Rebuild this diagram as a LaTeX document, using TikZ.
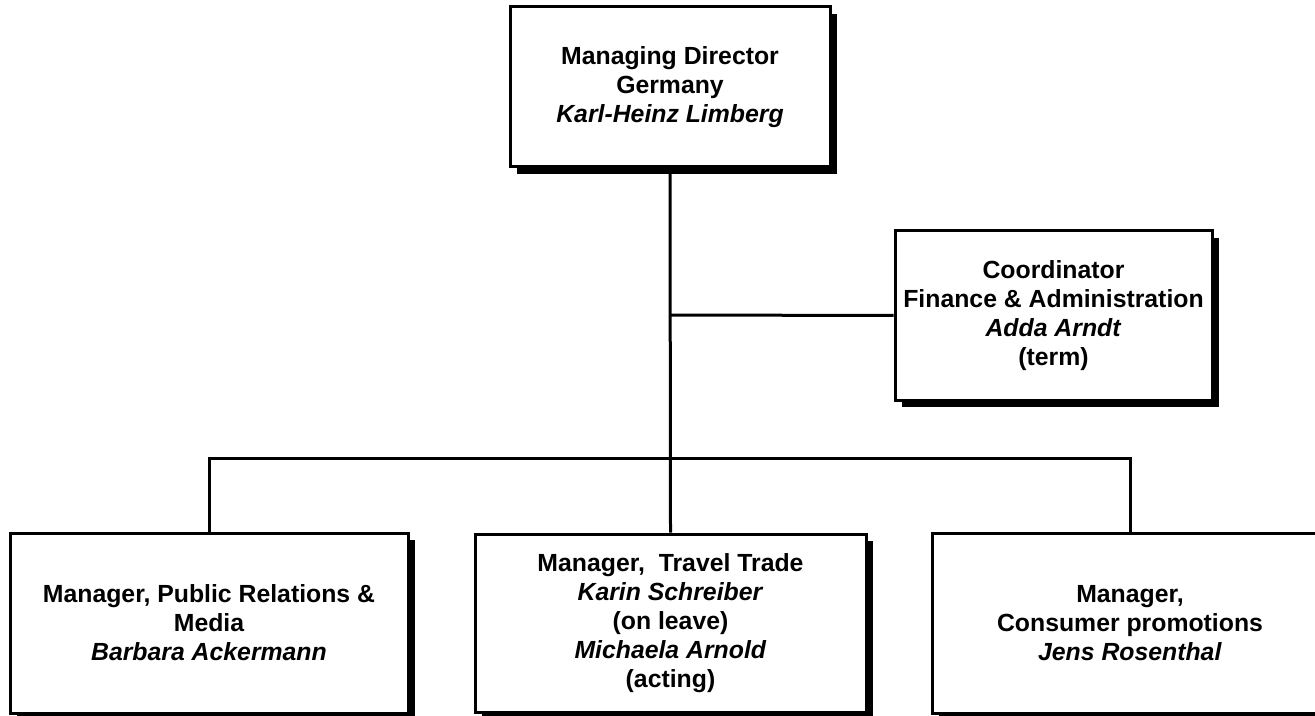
\documentclass[tikz,border=0pt]{standalone}
\usepackage{fontspec}
\setmainfont{Liberation Sans}
\usetikzlibrary{shadows}

\begin{document}
\begin{tikzpicture}[x=0.5pt,y=-0.5pt,
  post/.style={draw,line width=1.5pt,fill=white,align=center,inner sep=0pt,
    font=\fontsize{12.4}{14.5}\selectfont\bfseries,
    drop shadow={shadow xshift=3.5pt,shadow yshift=-3.5pt,fill=black,opacity=1}},
  link/.style={line width=1.5pt}]
\useasboundingbox (0,0) rectangle (1315,716);
\node[post,minimum width=160pt,minimum height=80pt] (md) at (670,87) {Managing Director\\Germany\\\textit{Karl-Heinz Limberg}};
\node[post,minimum width=158.5pt,minimum height=84.5pt] (fa) at (1053.5,315.5) {Coordinator\\Finance \& Administration\\\textit{Adda Arndt}\\(term)};
\node[post,minimum width=199pt,minimum height=90pt] (pr) at (209,623) {Manager, Public Relations \&\\Media\\\textit{Barbara Ackermann}};
\node[post,minimum width=195.5pt,minimum height=89pt] (tt) at (670.5,623) {Manager,~ Travel Trade\\\textit{Karin Schreiber}\\(on leave)\\\textit{Michaela Arnold}\\(acting)};
\node[post,minimum width=198pt,minimum height=90pt] (cp) at (1130,623) {Manager,\\Consumer promotions\\\textit{Jens Rosenthal}};
\coordinate (fork) at (670,315);
\coordinate (bus) at (670,458);
\draw[link] (md.south) -- (tt.north);
\draw[link] (fork) -- (fa.west);
\draw[link] (pr.north) |- (bus) -| (cp.north);
\end{tikzpicture}
\end{document}
